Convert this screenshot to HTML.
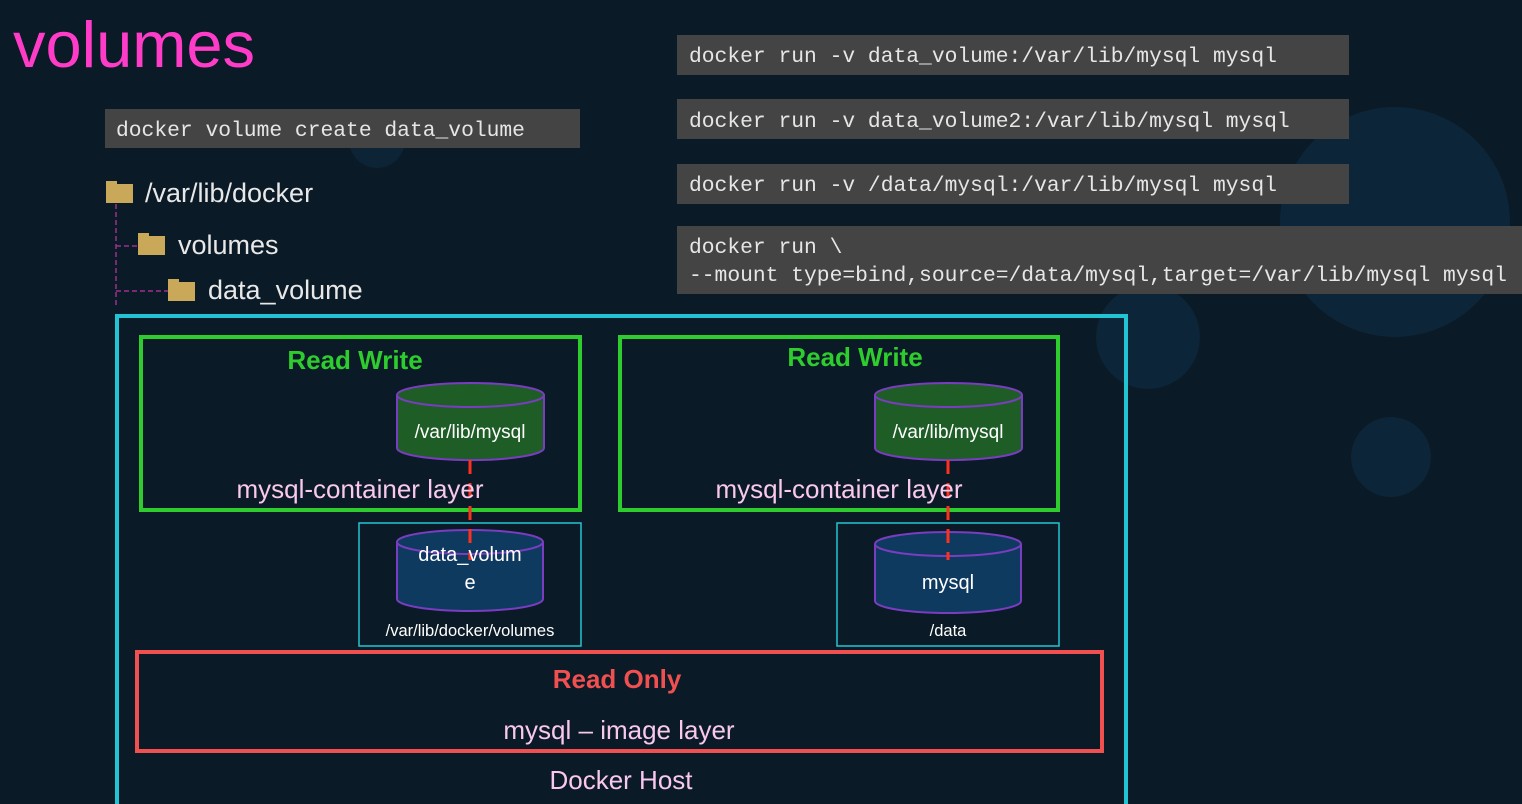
<!DOCTYPE html>
<html><head><meta charset="utf-8"><style>
html,body{margin:0;padding:0;background:#0a1a26;}
svg{display:block}
.mono{font-family:"Liberation Mono","DejaVu Sans Mono",monospace;font-size:21.3px;fill:#e6e6e6}
.sans{font-family:"Liberation Sans","DejaVu Sans",sans-serif}
</style></head><body>
<svg width="1522" height="804" viewBox="0 0 1522 804" xmlns="http://www.w3.org/2000/svg">
<rect width="1522" height="804" fill="#0a1a26"/>
<circle cx="1395" cy="222" r="115" fill="#0c2538"/>
<circle cx="1148" cy="337" r="52" fill="#0c2538"/>
<circle cx="1391" cy="457" r="40" fill="#0c2538"/>
<circle cx="377" cy="140" r="28" fill="#0c2436"/>
<text x="13" y="67" class="sans" font-size="65" fill="#ff3cc8">volumes</text>
<rect x="105" y="109" width="475" height="39" fill="#444"/>
<text x="116" y="136" class="mono">docker volume create data_volume</text>
<rect x="677" y="35" width="672" height="40" fill="#444"/>
<text x="689" y="62" class="mono">docker run -v data_volume:/var/lib/mysql mysql</text>
<rect x="677" y="99" width="672" height="40" fill="#444"/>
<text x="689" y="127" class="mono">docker run -v data_volume2:/var/lib/mysql mysql</text>
<rect x="677" y="164" width="672" height="40" fill="#444"/>
<text x="689" y="191" class="mono">docker run -v /data/mysql:/var/lib/mysql mysql</text>
<rect x="677" y="226" width="845" height="68" fill="#444"/>
<text x="689" y="253" class="mono">docker run \</text>
<text x="689" y="281" class="mono">--mount type=bind,source=/data/mysql,target=/var/lib/mysql mysql</text>
<g stroke="#a0308e" stroke-width="1.5" stroke-dasharray="5,3" fill="none">
<line x1="116" y1="204" x2="116" y2="308"/>
<line x1="116" y1="246" x2="138" y2="246"/>
<line x1="116" y1="291" x2="168" y2="291"/>
</g>
<g fill="#c9a85a"><rect x="106" y="184" width="27" height="19"/><rect x="106" y="181" width="11" height="5"/>
<rect x="138" y="236" width="27" height="19"/><rect x="138" y="233" width="11" height="5"/>
<rect x="168" y="282" width="27" height="19"/><rect x="168" y="279" width="11" height="5"/></g>
<g class="sans" font-size="27" fill="#e8e8e8">
<text x="145" y="202">/var/lib/docker</text>
<text x="178" y="254">volumes</text>
<text x="208" y="299">data_volume</text>
</g>
<rect x="117" y="316" width="1009" height="490" fill="none" stroke="#22c4d4" stroke-width="4"/>
<rect x="141" y="337" width="439" height="173" fill="none" stroke="#2ecc2e" stroke-width="4"/>
<rect x="620" y="337" width="438" height="173" fill="none" stroke="#2ecc2e" stroke-width="4"/>
<rect x="359" y="523" width="222" height="123" fill="none" stroke="#22c4d4" stroke-width="1.5"/>
<rect x="837" y="523" width="222" height="123" fill="none" stroke="#22c4d4" stroke-width="1.5"/>
<rect x="137" y="652" width="965" height="99" fill="none" stroke="#f05050" stroke-width="4"/>
<g stroke="#7a3cc0" stroke-width="2">
<path d="M397 395 V448 A73 12 0 0 0 544 448 V395" fill="#1e5e26"/><ellipse cx="470.5" cy="395" rx="73.5" ry="12" fill="#1e5e26"/>
<path d="M875 395 V448 A73 12 0 0 0 1022 448 V395" fill="#1e5e26"/><ellipse cx="948.5" cy="395" rx="73.5" ry="12" fill="#1e5e26"/>
<path d="M397 542 V599 A73 12 0 0 0 543 599 V542" fill="#0f3a60"/><ellipse cx="470" cy="542" rx="73" ry="12" fill="#0f3a60"/>
<path d="M875 544 V601 A73 12 0 0 0 1021 601 V544" fill="#0f3a60"/><ellipse cx="948" cy="544" rx="73" ry="12" fill="#0f3a60"/>
</g>
<g stroke="#ff3020" stroke-width="3" stroke-dasharray="14,9">
<line x1="470" y1="460" x2="470" y2="560"/>
<line x1="948" y1="460" x2="948" y2="560"/>
</g>
<g class="sans" fill="#ffffff" text-anchor="middle" font-size="19">
<text x="470" y="438">/var/lib/mysql</text>
<text x="948" y="438">/var/lib/mysql</text>
<text x="470" y="561" font-size="20">data_volum</text>
<text x="470" y="589" font-size="20">e</text>
<text x="948" y="589" font-size="20">mysql</text>
<text x="470" y="636" font-size="16.5">/var/lib/docker/volumes</text>
<text x="948" y="636" font-size="16.5">/data</text>
</g>
<g class="sans" text-anchor="middle" font-size="26">
<text x="355" y="369" fill="#2ecc2e" font-weight="bold">Read Write</text>
<text x="855" y="366" fill="#2ecc2e" font-weight="bold">Read Write</text>
<text x="360" y="498" fill="#f8c8ee">mysql-container layer</text>
<text x="839" y="498" fill="#f8c8ee">mysql-container layer</text>
<text x="617" y="688" fill="#f05050" font-weight="bold">Read Only</text>
<text x="619" y="739" fill="#f8c8ee">mysql – image layer</text>
<text x="621" y="789" fill="#f8c8ee">Docker Host</text>
</g>
</svg>
</body></html>
